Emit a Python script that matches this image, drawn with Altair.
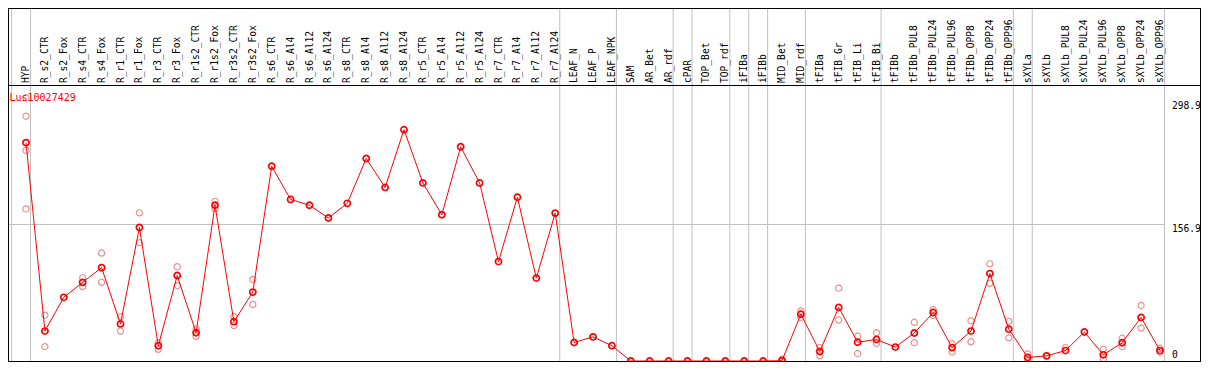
import altair as alt
import pandas as pd

gene_id = "Lus10027429"

categories = [
    "HYP", "R_s2_CTR", "R_s2_Fox", "R_s4_CTR", "R_s4_Fox", "R_r1_CTR", "R_r1_Fox",
    "R_r3_CTR", "R_r3_Fox", "R_r1s2_CTR", "R_r1s2_Fox", "R_r3s2_CTR", "R_r3s2_Fox",
    "R_s6_CTR", "R_s6_Al4", "R_s6_Al12", "R_s6_Al24", "R_s8_CTR", "R_s8_Al4",
    "R_s8_Al12", "R_s8_Al24", "R_r5_CTR", "R_r5_Al4", "R_r5_Al12", "R_r5_Al24",
    "R_r7_CTR", "R_r7_Al4", "R_r7_Al12", "R_r7_Al24", "LEAF_N", "LEAF_P", "LEAF_NPK",
    "SAM", "AR_Bet", "AR_rdf", "cPAR", "TOP_Bet", "TOP_rdf", "iFIBa", "iFIBb",
    "MID_Bet", "MID_rdf", "tFIBa", "tFIB_Gr", "tFIB_Li", "tFIB_Bi", "tFIBb",
    "tFIBb_PUL8", "tFIBb_PUL24", "tFIBb_PUL96", "tFIBb_OPP8", "tFIBb_OPP24",
    "tFIBb_OPP96", "sXYLa", "sXYLb", "sXYLb_PUL8", "sXYLb_PUL24", "sXYLb_PUL96",
    "sXYLb_OPP8", "sXYLb_OPP24", "sXYLb_OPP96",
]

means = [
    251.0, 34.4, 73.2, 90.4, 107.3, 42.6, 153.5,
    17.6, 98.3, 32.5, 179.0, 45.2, 79.2,
    223.8, 185.7, 179.0, 164.4, 181.2, 232.8,
    199.5, 265.9, 204.7, 168.1, 246.2, 204.7,
    114.3, 188.3, 95.3, 170.0, 21.3, 27.7, 17.6,
    0, 0, 0, 0, 0, 0, 0, 0,
    0.4, 53.8, 10.9, 61.6, 21.6, 24.7, 16.0,
    32.2, 55.7, 15.4, 34.4, 100.5,
    36.6, 4.1, 5.9, 12.0, 33.3, 7.1,
    21.0, 50.1, 12.0,
]

rep_cat = [
    "HYP", "HYP", "HYP", "HYP",
    "R_s2_CTR", "R_s2_CTR", "R_s4_CTR", "R_s4_CTR", "R_s4_Fox", "R_s4_Fox",
    "R_r1_CTR", "R_r1_CTR", "R_r1_Fox", "R_r1_Fox", "R_r3_CTR", "R_r3_CTR",
    "R_r3_Fox", "R_r3_Fox", "R_r1s2_CTR", "R_r1s2_CTR", "R_r1s2_Fox", "R_r1s2_Fox",
    "R_r3s2_CTR", "R_r3s2_CTR", "R_r3s2_Fox", "R_r3s2_Fox",
    "MID_Bet", "MID_rdf", "MID_rdf", "tFIBa", "tFIBa", "tFIB_Gr", "tFIB_Gr",
    "tFIB_Li", "tFIB_Li", "tFIB_Bi", "tFIB_Bi",
    "tFIBb_PUL8", "tFIBb_PUL8", "tFIBb_PUL24", "tFIBb_PUL24",
    "tFIBb_PUL96", "tFIBb_PUL96", "tFIBb_OPP8", "tFIBb_OPP8",
    "tFIBb_OPP24", "tFIBb_OPP24", "tFIBb_OPP96", "tFIBb_OPP96",
    "sXYLa", "sXYLa", "sXYLb_PUL8", "sXYLb_PUL96", "sXYLb_PUL96",
    "sXYLb_OPP8", "sXYLb_OPP8", "sXYLb_OPP24", "sXYLb_OPP24",
    "sXYLb_OPP96", "sXYLb_OPP96",
]
rep_val = [
    302.6, 281.3, 242.1, 174.8,
    52.7, 16.5, 95.6, 85.5, 124.1, 90.4,
    50.8, 34.4, 170.3, 135.9, 21.0, 13.4,
    108.4, 86.6, 37.0, 28.4, 183.5, 175.2,
    50.8, 40.7, 93.8, 65.0,
    2.0, 57.5, 50.1, 15.4, 5.9, 83.7, 47.1,
    28.4, 8.6, 32.5, 20.2,
    44.5, 21.0, 59.1, 52.3,
    19.8, 10.4, 46.3, 22.1,
    111.7, 89.3, 45.6, 26.6,
    8.2, 0.0, 15.4, 13.4, 2.2,
    26.1, 16.5, 63.9, 37.8,
    14.6, 10.1,
]

# group separators drawn just after these category indices
separators_after = [-1, 0, 28, 31, 34, 35, 37, 38, 39, 41, 45, 52, 53, 60]

tick_values = [298.9, 156.9]
tick_labels = ["298.9", "156.9"]
zero_label = ["0"]

df = pd.DataFrame({"idx": list(range(len(categories))), "cat": categories, "mean": means})
rep_df = pd.DataFrame({"idx": [categories.index(c) for c in rep_cat], "val": rep_val})
sep_df = pd.DataFrame({"idx": [s + 0.24 for s in separators_after]})
tick_df = pd.DataFrame({"v": tick_values, "label": tick_labels})
zero_df = pd.DataFrame({"v": [0.0], "label": zero_label})
grid_df = pd.DataFrame({"v": [156.9]})
title_df = pd.DataFrame({"t": [gene_id]})

W, H = 1193, 354
STEP = 18.9
x0 = -18 / STEP
xscale = alt.Scale(domain=[x0, x0 + W / STEP], nice=False, zero=False)
yscale = alt.Scale(domain=[-1.1494, 405.75], nice=False, zero=False)

X = alt.X("idx:Q", scale=xscale, axis=None)
FONT = "DejaVu Sans Mono"

seps = alt.Chart(sep_df).mark_rule(color="#c0c0c0", strokeWidth=1).encode(x=X)

grid = alt.Chart(grid_df).mark_rule(color="#c0c0c0", strokeWidth=1).encode(
    y=alt.Y("v:Q", scale=yscale, axis=None), x=alt.value(0), x2=alt.value(1157)
)

base = alt.Chart(title_df)
sepline = base.mark_rule(color="black", strokeWidth=1).encode(
    y=alt.value(77.5), x=alt.value(0), x2=alt.value(W)
)
frame_top = base.mark_rule(color="black", strokeWidth=1).encode(
    y=alt.value(0.5), x=alt.value(0), x2=alt.value(W)
)
frame_bottom = base.mark_rule(color="black", strokeWidth=1).encode(
    y=alt.value(H - 0.5), x=alt.value(0), x2=alt.value(W)
)
frame_left = base.mark_rule(color="black", strokeWidth=1).encode(
    x=alt.value(0.5), y=alt.value(0), y2=alt.value(H)
)
frame_right = base.mark_rule(color="black", strokeWidth=1).encode(
    x=alt.value(W - 0.5), y=alt.value(0), y2=alt.value(H)
)

labels = alt.Chart(df).mark_text(
    angle=270, align="left", baseline="middle", font=FONT, fontSize=9.6, color="black"
).encode(x=X, y=alt.value(75), text="cat:N")

reps = alt.Chart(rep_df).mark_point(
    shape="circle", filled=False, color="#ee8f8f", size=38, strokeWidth=1.2, opacity=1, clip=True
).encode(x=X, y=alt.Y("val:Q", scale=yscale, axis=None))

line = alt.Chart(df).mark_line(color="red", strokeWidth=1, clip=True).encode(
    x=X, y=alt.Y("mean:Q", scale=yscale, axis=None), order="idx:Q"
)

pts = alt.Chart(df).mark_point(
    shape="circle", filled=False, color="red", size=38, strokeWidth=1.7, opacity=1, clip=True
).encode(x=X, y=alt.Y("mean:Q", scale=yscale, axis=None))

ticks = alt.Chart(tick_df).mark_text(
    align="left", baseline="top", font=FONT, fontSize=9.6, color="black"
).encode(x=alt.value(1164), y=alt.Y("v:Q", scale=yscale, axis=None), text="label:N")

zero = alt.Chart(zero_df).mark_text(
    align="left", baseline="bottom", font=FONT, fontSize=9.6, color="black", dy=-1
).encode(x=alt.value(1164), y=alt.Y("v:Q", scale=yscale, axis=None), text="label:N")

title = alt.Chart(title_df).mark_text(
    align="left", baseline="alphabetic", font=FONT, fontSize=10, color="red"
).encode(x=alt.value(1.5), y=alt.value(92.5), text="t:N")

chart = alt.layer(
    seps, grid, sepline, labels, reps, line, pts, ticks, zero, title,
    frame_top, frame_bottom, frame_left, frame_right,
).properties(
    width=W, height=H, autosize=alt.AutoSizeParams(type="none"), padding=0
).configure_view(stroke=None)

chart.save("out.html", embed_options={"renderer": "svg", "actions": False})
